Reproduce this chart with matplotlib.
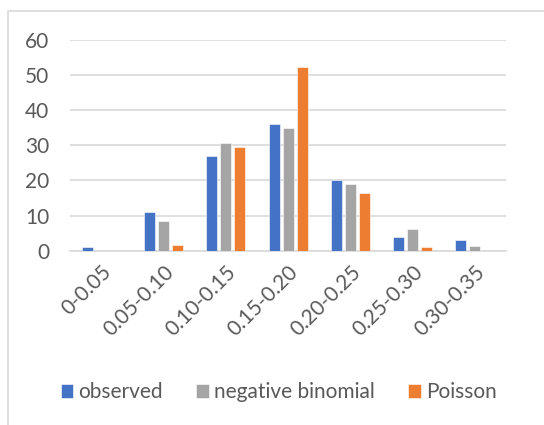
import numpy as np
import matplotlib
matplotlib.use("Agg")
import matplotlib.pyplot as plt
from matplotlib.patches import Rectangle

plt.rcParams['font.family'] = ['Lato', 'DejaVu Sans']

categories = ["0-0.05", "0.05-0.10", "0.10-0.15", "0.15-0.20",
              "0.20-0.25", "0.25-0.30", "0.30-0.35"]
observed = [1, 11, 27, 36, 20, 4, 3]
neg_binomial = [0, 8.5, 30.8, 35, 19, 6.2, 1.4]
poisson = [0, 1.7, 29.6, 52.3, 16.3, 1.1, 0]

series = [("observed", observed, "#4472C4"),
          ("negative binomial", neg_binomial, "#A5A5A5"),
          ("Poisson", poisson, "#ED7D31")]

fig = plt.figure(figsize=(5.44, 4.25), dpi=100)
ax = fig.add_axes([0.129, 0.41, 0.801, 0.496])

# chart border (cropped on right/bottom like the reference)
fig.patches.append(Rectangle((8 / 544, -0.1), 1.2, 1 - 11 / 425 + 0.1,
                             transform=fig.transFigure, fill=False,
                             edgecolor="#D9D9D9", linewidth=1.2))

x = np.arange(len(categories))
w = 0.177
step = 0.225
for i, (name, vals, col) in enumerate(series):
    ax.bar(x + (i - 1) * step, vals, width=w, color=col, label=name,
           edgecolor="white", linewidth=0.4, zorder=3)

ax.set_xlim(-0.5, len(categories) - 0.5)
ax.set_ylim(0, 60)
ax.set_yticks(range(0, 61, 10))
ax.yaxis.grid(True, color="#D9D9D9", linewidth=1.2, zorder=0)
for s in ["top", "right", "left"]:
    ax.spines[s].set_visible(False)
ax.spines["bottom"].set_color("#D9D9D9")
ax.spines["bottom"].set_linewidth(1.2)
ax.tick_params(axis="both", length=0, colors="#595959", labelsize=15)
ax.tick_params(axis="y", pad=15)
ax.set_xticks(x)
ax.set_xticklabels(categories, rotation=45, ha="right",
                   rotation_mode="anchor")
ax.tick_params(axis="x", pad=8)

leg = fig.legend(loc="center", bbox_to_anchor=(0.512, 0.077), ncol=3,
                 frameon=False, fontsize=15, handlelength=0.6,
                 handleheight=0.7, handletextpad=0.25, columnspacing=1.6)
for t in leg.get_texts():
    t.set_color("#595959")

fig.savefig("out.png", dpi=100)
